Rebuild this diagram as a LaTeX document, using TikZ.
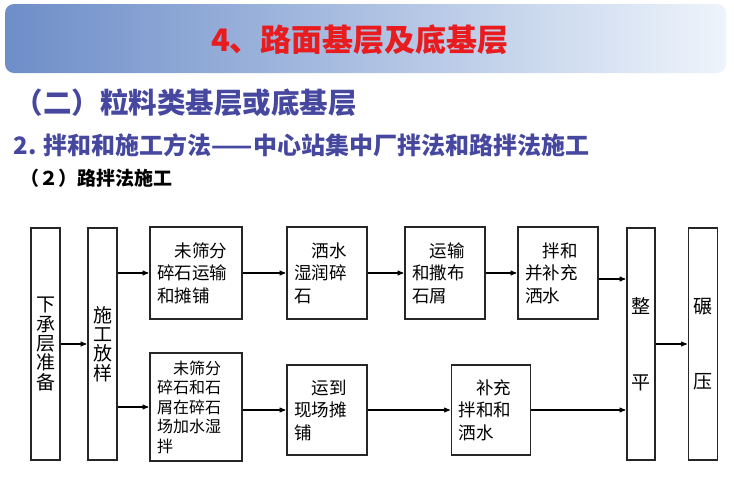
\documentclass[tikz,border=0pt]{standalone}
\usepackage{fontspec}
\setmainfont{Noto Sans CJK SC}
\usetikzlibrary{arrows}

\definecolor{titlered}{RGB}{232,28,30}
\definecolor{headblue}{RGB}{70,72,160}
\definecolor{bandleft}{RGB}{110,142,200}
\definecolor{bandmid}{RGB}{172,192,226}
\definecolor{bandright}{RGB}{238,244,251}

\tikzset{
  stepbox/.style={draw=black!85, line width=1.3, inner xsep=7, inner ysep=0,
    align=left, minimum height=92, font=\fontsize{17.5}{22.5}\selectfont},
  bar/.style={draw=black!85, line width=1.3, minimum width=29, minimum height=232,
    inner sep=0, align=center, font=\fontsize{19}{19.3}\selectfont},
  headline/.style={anchor=west, inner sep=0},
}

\begin{document}
\begin{tikzpicture}[x=1pt,y=-1pt,>=stealth',shorten >=1pt,line width=1.1]
    \useasboundingbox (0,0) rectangle (734,477);

    % title band
    \shade[rounded corners=9, left color=bandleft, right color=bandright,
      middle color=bandmid] (5,4) rectangle (726,73);
    \node[text=titlered, font=\fontsize{31}{31}\selectfont\bfseries] (title) at (360,40) {4、路面基层及底基层};

    \node[headline, text=headblue, font=\fontsize{28.5}{30}\selectfont\bfseries] (part) at (14,103) {（二）粒料类基层或底基层};
    \node[headline, text=headblue, font=\fontsize{24}{26}\selectfont\bfseries] (method) at (13,145) {2. 拌和和施工方法——中心站集中厂拌法和路拌法施工};
    \node[headline, font=\fontsize{19}{20}\selectfont\bfseries] (road) at (20,178) {（２）路拌法施工};

    % tall bars
    \node[bar] (prep)  at (45.5,344)  {下\\承\\层\\准\\备};
    \node[bar] (stake) at (102.5,344) {施\\工\\放\\样};
    \node[bar, minimum width=28] (level) at (641,344) {整\\[57pt]平};
    \node[bar] (roll)  at (703,344)   {碾\\[55pt]压};

    % upper row
    \node[stepbox, text width=78] (haul)   at (196,273) {\hspace*{1em}未筛分\\碎石运输\\和摊铺};
    \node[stepbox, text width=66] (wet)    at (327,273) {\hspace*{1em}洒水\\湿润碎\\石};
    \node[stepbox, text width=66] (spread) at (445,273) {\hspace*{1em}运输\\和撒布\\石屑};
    \node[stepbox, text width=66] (mixtop) at (558,273) {\hspace*{1em}拌和\\并补充\\洒水};

    % lower row
    \node[stepbox, text width=78, minimum height=108,
      font=\fontsize{16}{19.5}\selectfont] (premix) at (196,407) {\hspace*{1em}未筛分\\碎石和石\\屑在碎石\\场加水湿\\拌};
    \node[stepbox, text width=66, minimum height=90] (lay)    at (327,410) {\hspace*{1em}运到\\现场摊\\铺};
    \node[stepbox, text width=65, minimum height=90] (mixlow) at (491,410) {\hspace*{1em}补充\\拌和和\\洒水};

    \path[->]
    (prep) edge (stake)
    (stake.east |- haul) edge (haul)
    (stake.east |- premix) edge (premix)

    (haul) edge (wet)
    (wet) edge (spread)
    (spread) edge (mixtop)
    ([yshift=-6pt]mixtop.east) edge ([yshift=-6pt]mixtop.east -| level.west)

    (premix.east |- lay) edge (lay)
    (lay) edge (mixlow)
    (mixlow) edge (mixlow -| level.west)

    (level) edge (roll)
    ;
\end{tikzpicture}
\end{document}
